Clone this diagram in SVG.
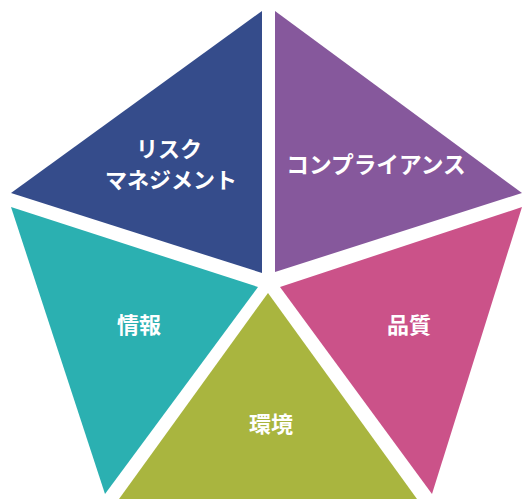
<svg xmlns="http://www.w3.org/2000/svg" width="522" height="499" viewBox="0 0 522 499">
<style>
text{font-family:"Noto Sans CJK JP","Noto Sans",sans-serif;font-weight:700;font-size:22px;fill:#fff;text-anchor:middle}
</style>
<rect width="522" height="499" fill="#fff"/>
<g id="risk">
<polygon points="262,11 262,273 11,193" fill="#354C8B"/>
<text x="169" y="157">リスク</text>
<text x="171" y="188">マネジメント</text>
</g>
<g id="compliance">
<polygon points="275,11 275,272 522,193" fill="#86589C"/>
<text x="376" y="173" style="font-size:22.7px">コンプライアンス</text>
</g>
<g id="quality">
<polygon points="280,287 522,207 432,494" fill="#CB5289"/>
<text x="409" y="333">品質</text>
</g>
<g id="environment">
<polygon points="268,293 119,499 417,499" fill="#A9B53F"/>
<text x="271" y="432">環境</text>
</g>
<g id="info">
<polygon points="11,207 258,287 105,494" fill="#2BB0B1"/>
<text x="139" y="333">情報</text>
</g>
<g id="connectors"/>
</svg>
